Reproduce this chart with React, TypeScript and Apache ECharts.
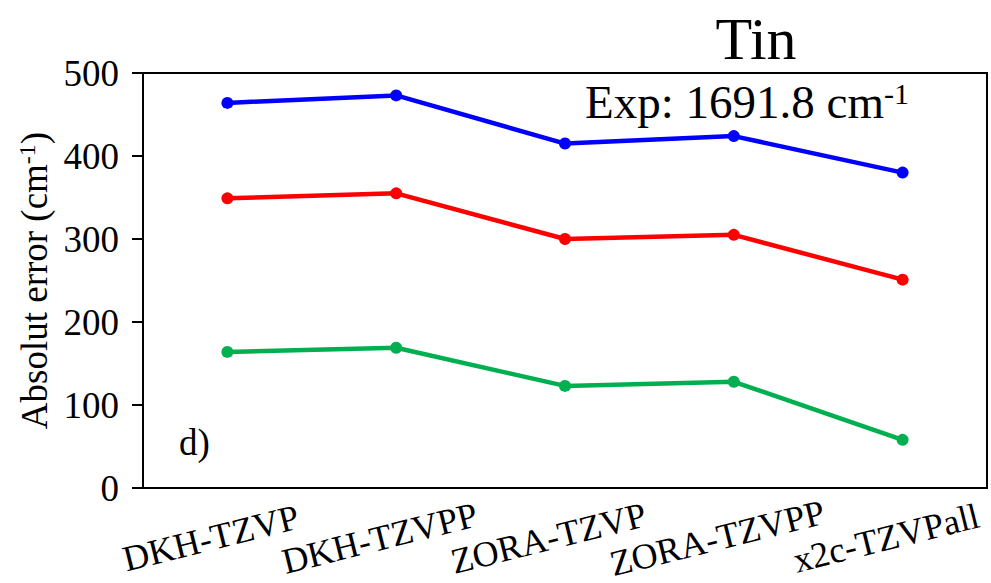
import React, { useEffect, useRef } from "react";
import * as echarts from "echarts";

const categories = ["DKH-TZVP", "DKH-TZVPP", "ZORA-TZVP", "ZORA-TZVPP", "x2c-TZVPall"];
const blueValues = [464, 473, 415, 424, 380];
const redValues = [349, 355, 300, 305, 251];
const greenValues = [164, 169, 123, 128, 58];
const yMin = 0;
const yMax = 500;
const yStep = 100;
const titleText = "Tin";
const expText = "Exp: 1691.8 cm";
const panelLabel = "d)";

const FONT = '"Liberation Serif", "Times New Roman", serif';

export default function App() {
  const ref = useRef<HTMLDivElement>(null);
  useEffect(() => {
    if (!ref.current) return;
    const chart = echarts.init(ref.current, null, { renderer: "svg" });
    const mkSeries = (name: string, data: number[], color: string) => ({
      name,
      type: "line",
      data,
      symbol: "circle",
      symbolSize: 12,
      lineStyle: { color, width: 4.5 },
      itemStyle: { color },
      z: 3,
    });
    chart.setOption({
      animation: false,
      backgroundColor: "#ffffff",
      textStyle: { fontFamily: FONT },
      title: {
        text: titleText,
        left: 751,
        top: 4,
        textAlign: "center",
        textStyle: { fontFamily: FONT, fontSize: 60, fontWeight: "normal", color: "#000" },
      },
      grid: {
        left: 143,
        top: 73,
        right: 4,
        bottom: 95,
        outerBoundsMode: "none",
        containLabel: false,
        show: true,
        borderColor: "#000",
        borderWidth: 2,
        backgroundColor: "transparent",
      },
      xAxis: {
        type: "category",
        data: categories,
        boundaryGap: true,
        axisLine: { show: true, lineStyle: { color: "#000", width: 2 } },
        axisTick: { show: false },
        splitLine: { show: false },
        axisLabel: {
          interval: 0,
          rotate: 14,
          align: "center",
          verticalAlign: "middle",
          margin: 46,
          padding: [0, 34, 0, 0],
          fontFamily: FONT,
          fontSize: 36,
          color: "#000",
        },
      },
      yAxis: {
        type: "value",
        min: yMin,
        max: yMax,
        interval: yStep,
        name: "{n|Absolut error (cm}{s|-1}{n|)}",
        nameLocation: "middle",
        nameGap: 88,
        nameRotate: 90,
        nameTextStyle: {
          rich: {
            n: { fontFamily: FONT, fontSize: 37, color: "#000" },
            s: { fontFamily: FONT, fontSize: 24, color: "#000", verticalAlign: "top", padding: [0, 0, 14, 0] },
          },
        },
        axisLine: { show: true, lineStyle: { color: "#000", width: 2 } },
        axisTick: { show: true, inside: false, length: 11, lineStyle: { color: "#000", width: 2 } },
        splitLine: { show: false },
        axisLabel: { margin: 24, fontFamily: FONT, fontSize: 37, color: "#000" },
      },
      graphic: [
        {
          type: "text",
          left: 585,
          top: 78,
          style: {
            text: "{n|" + expText + "}{s|-1}",
            rich: {
              n: { fontFamily: FONT, fontSize: 47, fill: "#000" },
              s: { fontFamily: FONT, fontSize: 30, fill: "#000", verticalAlign: "top", padding: [0, 0, 18, 0] },
            },
          },
          z: 10,
        },
        {
          type: "text",
          left: 179,
          top: 424,
          style: { text: panelLabel, fontFamily: FONT, fontSize: 37, fill: "#000" },
          z: 10,
        },
      ],
      series: [
        mkSeries("blue", blueValues, "#0000ff"),
        mkSeries("red", redValues, "#ff0000"),
        mkSeries("green", greenValues, "#00b050"),
      ],
    });
    return () => chart.dispose();
  }, []);
  return <div ref={ref} style={{ width: 991, height: 583, position: "absolute", left: 0, top: 0 }} />;
}
